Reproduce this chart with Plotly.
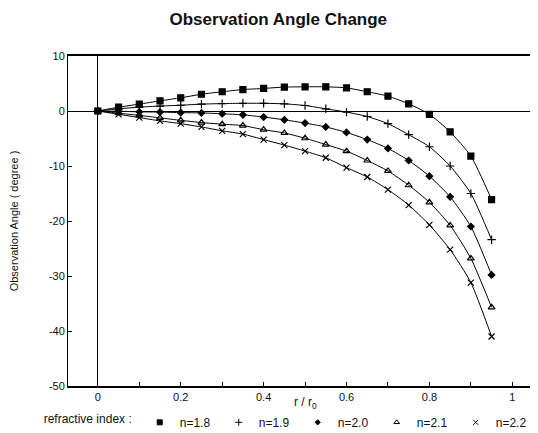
import plotly.graph_objects as go

r = [0, 0.05, 0.1, 0.15, 0.2, 0.25, 0.3, 0.35, 0.4, 0.45, 0.5,
     0.55, 0.6, 0.65, 0.7, 0.75, 0.8, 0.85, 0.9, 0.95]

n18 = [0, 0.7, 1.25, 1.85, 2.4, 3.05, 3.5, 3.9, 4.1, 4.35, 4.4,
       4.4, 4.2, 3.5, 2.7, 1.3, -0.6, -3.8, -8.2, -16.1]
n19 = [0, 0.4, 0.7, 0.9, 1.05, 1.25, 1.35, 1.4, 1.4, 1.3, 1.0,
       0.4, -0.2, -1.0, -2.3, -4.3, -6.5, -10.0, -15.0, -23.4]
n20 = [0, -0.05, -0.15, -0.2, -0.3, -0.35, -0.5, -0.7, -1.1, -1.6, -2.2,
       -2.9, -3.9, -5.2, -6.8, -9.0, -11.85, -15.6, -21.0, -29.8]
n21 = [0, -0.4, -0.8, -1.25, -1.7, -2.1, -2.4, -2.65, -3.4, -4.0, -4.95,
       -6.1, -7.3, -9.0, -10.9, -13.5, -16.6, -20.8, -26.8, -35.7]
n22 = [0, -0.6, -1.2, -1.8, -2.3, -2.9, -3.6, -4.2, -5.2, -6.2, -7.3,
       -8.5, -10.3, -12.0, -14.3, -17.1, -20.7, -25.2, -31.2, -41.0]

series_names = ["n=1.8", "n=1.9", "n=2.0", "n=2.1", "n=2.2"]
series_values = [n18, n19, n20, n21, n22]
symbols = ["square", "cross-thin", "diamond", "triangle-up-open", "x-thin"]
sizes = [6, 6, 5, 6, 6]

x_tickvals = [0, 0.2, 0.4, 0.6, 0.8, 1]
x_ticktext = ["0", "0.2", "0.4", "0.6", "0.8", "1"]
y_tickvals = [10, 0, -10, -20, -30, -40, -50]
y_ticktext = ["10", "0", "-10", "-20", "-30", "-40", "-50"]

FONT = "Liberation Sans, Arial, sans-serif"

fig = go.Figure()
for name, vals, sym, sz in zip(series_names, series_values, symbols, sizes):
    fig.add_trace(go.Scatter(
        x=r, y=vals, name=name, mode="lines+markers", showlegend=False,
        line=dict(color="black", width=1, shape="spline", smoothing=0.6),
        marker=dict(symbol=sym, size=sz, color="black",
                    line=dict(color="black", width=1.2)),
    ))
# legend entries (markers only, as in the reference legend)
for name, sym, sz in zip(series_names, symbols, sizes):
    fig.add_trace(go.Scatter(
        x=[None], y=[None], name=name, mode="markers",
        marker=dict(symbol=sym, size=sz - 1, color="black",
                    line=dict(color="black", width=1)),
    ))

# The page body adds an 8px offset, so the figure is sized 8px smaller.
fig.update_layout(
    width=530, height=425,
    margin=dict(l=60, r=0, t=48, b=47, autoexpand=False),
    paper_bgcolor="white", plot_bgcolor="white",
    font=dict(family=FONT, size=11, color="#111"),
    title=dict(text="<b>Observation Angle Change</b>", x=0.51, xanchor="center",
               y=0.975, yanchor="middle", font=dict(family=FONT, size=17, color="#111")),
    showlegend=True,
    legend=dict(orientation="h", x=-0.056, xanchor="left", y=-0.11, yanchor="middle",
                title=dict(text="refractive index :", side="left", font=dict(size=12)),
                font=dict(size=12), entrywidth=34, entrywidthmode="pixels",
                bgcolor="rgba(0,0,0,0)", itemsizing="trace", tracegroupgap=0),
)

fig.update_xaxes(
    range=[-0.072, 1.062], tickvals=x_tickvals, ticktext=x_ticktext,
    ticks="inside", ticklen=4, tickcolor="black", tickwidth=1,
    minor=dict(dtick=0.1, ticks="inside", ticklen=4, tickcolor="black"),
    showline=True, linecolor="black", linewidth=2, mirror=True,
    showgrid=False, zeroline=True, zerolinecolor="black", zerolinewidth=1,
    tickfont=dict(size=11),
)
fig.update_yaxes(
    range=[-50, 10], tickvals=y_tickvals, ticktext=y_ticktext,
    ticks="inside", ticklen=4, tickcolor="black", tickwidth=1,
    showline=True, linecolor="black", linewidth=1, mirror=True,
    showgrid=False, zeroline=True, zerolinecolor="black", zerolinewidth=1,
    title=dict(text="Observation Angle ( degree )", font=dict(size=11), standoff=30),
    tickfont=dict(size=11),
)

fig.add_annotation(text="r / r<sub>0</sub>", x=0.5, xref="x", y=-0.052, yref="paper",
                   showarrow=False, font=dict(size=12), yanchor="middle")

fig.write_html("out.html")
